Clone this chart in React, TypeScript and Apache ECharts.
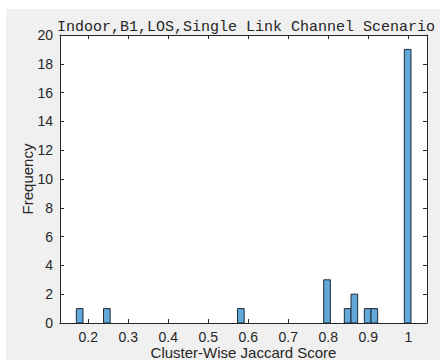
import React, { useEffect, useRef } from "react";
import * as echarts from "echarts";

const binLefts = [0.17, 0.238, 0.573, 0.7885, 0.84, 0.8567, 0.89, 0.9067, 0.99];
const counts = [1, 1, 1, 3, 1, 2, 1, 1, 19];
const binWidth = 1 / 60;
const xTicks = [0.2, 0.3, 0.4, 0.5, 0.6, 0.7, 0.8, 0.9, 1];
const titleText = "Indoor,B1,LOS,Single Link Channel Scenario";
const xLabel = "Cluster-Wise Jaccard Score";
const yLabel = "Frequency";

const AX = "#262626";
const SANS = "'Liberation Sans', Arial, sans-serif";

export default function App() {
  const ref = useRef<HTMLDivElement>(null);
  useEffect(() => {
    if (!ref.current) return;
    const chart = echarts.init(ref.current, undefined, { renderer: "svg" });
    const data = binLefts.map((l, i) => [l, l + binWidth, counts[i]]);
    const xMin = 0.1292;
    const xMax = 1.0467;
    const fmt = (v: number) => String(Number(v.toFixed(1)));
    const baseX = {
      type: "value" as const,
      min: xMin,
      max: xMax,
      splitLine: { show: false },
      axisLine: { show: true, onZero: false, lineStyle: { color: AX, width: 1 } },
      axisTick: { show: true, inside: true, length: 4, customValues: xTicks, lineStyle: { color: AX } },
    };
    const baseY = {
      type: "value" as const,
      min: 0,
      max: 20,
      interval: 2,
      splitLine: { show: false },
      axisLine: { show: true, onZero: false, lineStyle: { color: AX, width: 1 } },
      axisTick: { show: true, inside: true, length: 4, lineStyle: { color: AX } },
    };
    chart.setOption({
      animation: false,
      backgroundColor: "#f0f0f0",
      title: {
        text: titleText,
        left: 235,
        top: 6,
        textAlign: "center",
        textStyle: { fontFamily: "'Liberation Mono', 'Courier New', monospace", fontSize: 15, fontWeight: "normal", color: AX },
      },
      grid: {
        left: 54, right: 13, top: 26, bottom: 37,
        outerBoundsMode: "none", containLabel: false,
        show: true, backgroundColor: "#ffffff", borderWidth: 0,
      },
      xAxis: [
        {
          ...baseX,
          position: "bottom",
          name: xLabel,
          nameLocation: "middle",
          nameGap: 22,
          nameMoveOverlap: false,
          nameTextStyle: { fontFamily: SANS, fontSize: 15, color: AX },
          axisLabel: { show: true, customValues: xTicks, margin: 7, formatter: fmt, fontFamily: SANS, fontSize: 14, color: AX },
        },
        {
          ...baseX,
          position: "top",
          axisLabel: { show: false },
        },
      ],
      yAxis: [
        {
          ...baseY,
          position: "left",
          name: yLabel,
          nameLocation: "middle",
          nameRotate: 90,
          nameGap: 25,
          nameMoveOverlap: false,
          nameTextStyle: { fontFamily: SANS, fontSize: 15, color: AX },
          axisLabel: { show: true, margin: 7, fontFamily: SANS, fontSize: 14, color: AX },
        },
        {
          ...baseY,
          position: "right",
          axisLabel: { show: false },
        },
      ],
      series: [
        {
          type: "custom",
          xAxisIndex: 0,
          yAxisIndex: 0,
          data,
          encode: { x: [0, 1], y: 2 },
          renderItem: (params: any, api: any) => {
            const p0 = api.coord([api.value(0), api.value(2)]);
            const p1 = api.coord([api.value(1), 0]);
            return {
              type: "rect",
              shape: { x: p0[0], y: p0[1], width: p1[0] - p0[0], height: p1[1] - p0[1] },
              style: { fill: "#62a8d8", stroke: "#1e2b36", lineWidth: 1 },
            };
          },
        },
      ],
    });
    return () => chart.dispose();
  }, []);
  return (
    <div style={{ position: "fixed", left: 0, top: 0, width: 440, height: 360, background: "#ffffff" }}>
      <div ref={ref} style={{ position: "absolute", left: 6, top: 9, width: 434, height: 351 }} />
    </div>
  );
}
